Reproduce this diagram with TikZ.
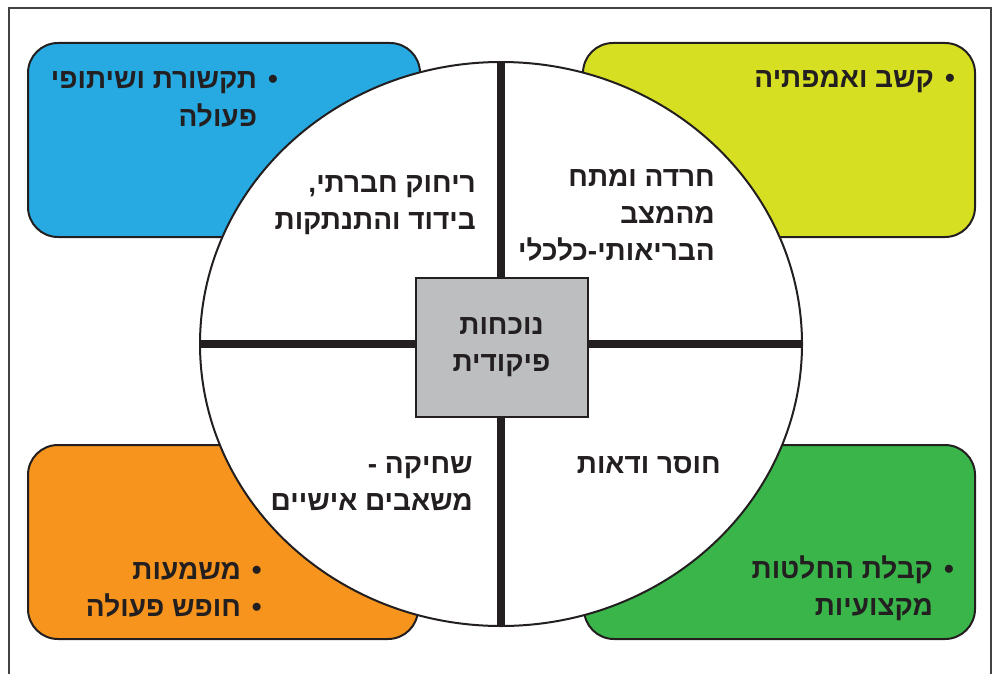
\documentclass[tikz,border=0pt]{standalone}
\usepackage{fontspec}
\setmainfont{Liberation Sans}
\newfontfamily\hebfont[Script=Hebrew]{Liberation Sans}
\TeXXeTstate=1
\usetikzlibrary{shapes.geometric}
\definecolor{quadblue}{HTML}{27AAE1}
\definecolor{quadlime}{HTML}{D7DF23}
\definecolor{quadorange}{HTML}{F7941D}
\definecolor{quadgreen}{HTML}{39B54A}
\definecolor{coregray}{HTML}{BCBEC0}
\definecolor{ink}{HTML}{231F20}
\newcommand{\itemdot}{•\hspace{11pt}}
\newcommand{\itemgap}{\hphantom{•}\hspace{11pt}}

\begin{document}
\begin{tikzpicture}[
    x=1pt, y=-1pt,
    corner box/.style={draw=ink, line width=2pt, rounded corners=30pt},
    heb text/.style={inner sep=0pt, align=right, text=ink,
      font=\hebfont\bfseries\fontsize{28}{37}\selectfont},
    cross bar/.style={draw=ink, line width=8pt},
  ]
  \useasboundingbox (0,0) rectangle (992,674);
  \draw[ink!85, line width=1.5pt] (9,674) -- (9,8) -- (991,8) -- (991,674);
  % four coloured corners
  \path[corner box, fill=quadblue] (28,43) rectangle (420,237);
  \path[corner box, fill=quadlime] (583,43) rectangle (975,237);
  \path[corner box, fill=quadorange] (28,445) rectangle (418,639);
  \path[corner box, fill=quadgreen] (584,445) rectangle (975,639);
  % the ring and its cross
  \node[draw=ink, line width=2pt, fill=white, ellipse, inner sep=0pt,
    minimum width=602pt, minimum height=564pt] (ring) at (501,344) {};
  \draw[cross bar] (ring.north) -- (ring.south);
  \draw[cross bar] (ring.west) -- (ring.east);
  \node[draw=ink, line width=2pt, fill=coregray, inner sep=0pt,
    minimum width=172pt, minimum height=139pt] (core) at (501.5,347.5) {};
  % texts (base = last line)
  \node[heb text, align=center] (corelabel) at (core.center) {\beginR נוכחות\endR\\\beginR פיקודית\endR};
  \node[heb text, anchor=base east] (distance) at (476,229) {\beginR ריחוק חברתי,\endR\\\beginR בידוד והתנתקות\endR};
  \node[heb text, anchor=base east] (anxiety) at (715,260) {\beginR חרדה ומתח\endR\\\beginR מהמצב\endR\\\beginR הבריאותי-כלכלי\endR};
  \node[heb text, anchor=base east] (burnout) at (473,510) {\beginR שחיקה -\endR\\\beginR משאבים אישיים\endR};
  \node[heb text, anchor=base east] (doubt) at (721,473) {\beginR חוסר ודאות\endR};
  \node[heb text, anchor=base east] (itemblue) at (278,126) {\beginR\itemdot תקשורת ושיתופי\endR\\\beginR\itemgap פעולה\endR};
  \node[heb text, anchor=base east] (itemlime) at (955,88) {\beginR\itemdot קשב ואמפתיה\endR};
  \node[heb text, anchor=base east] (itemorange) at (262,616) {\beginR\itemdot משמעות\endR\\\beginR\itemdot חופש פעולה\endR};
  \node[heb text, anchor=base east] (itemgreen) at (954,615) {\beginR\itemdot קבלת החלטות\endR\\\beginR\itemgap מקצועיות\endR};
\end{tikzpicture}
\end{document}
